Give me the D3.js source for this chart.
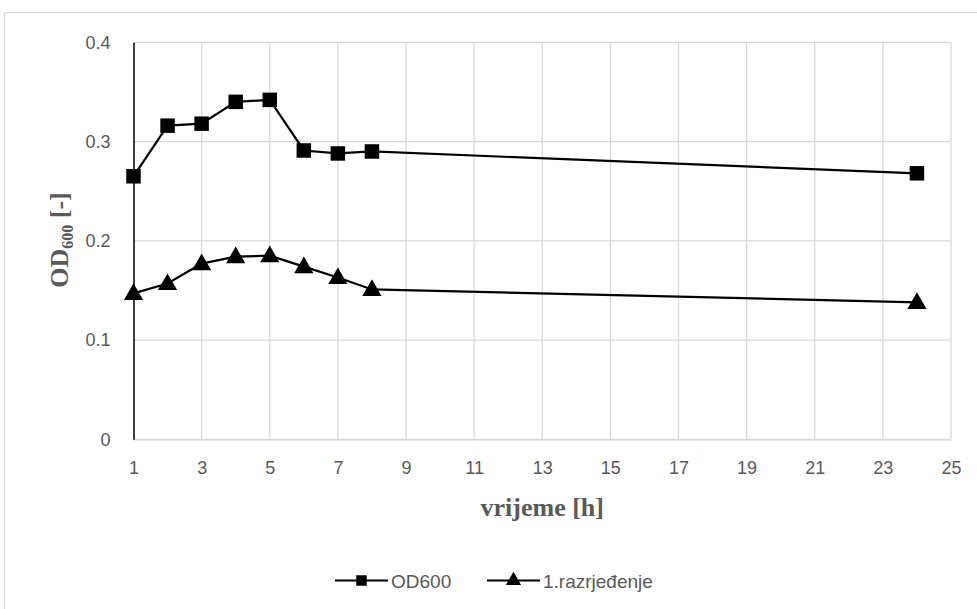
<!DOCTYPE html>
<html><head><meta charset="utf-8">
<script src="https://cdn.jsdelivr.net/npm/d3@7"></script>
<style>body{margin:0;background:#fff}svg{display:block}</style>
</head><body>
<script>
const hours = [1, 2, 3, 4, 5, 6, 7, 8, 24];
const od600 = [0.265, 0.316, 0.318, 0.340, 0.342, 0.291, 0.288, 0.290, 0.268];
const razrjedjenje = [0.147, 0.157, 0.177, 0.184, 0.185, 0.174, 0.163, 0.151, 0.138];
const xTicks = [1, 3, 5, 7, 9, 11, 13, 15, 17, 19, 21, 23, 25];
const yTicks = [0, 0.1, 0.2, 0.3, 0.4];
const seriesNames = ["OD600", "1.razrjeđenje"];

const W = 977, H = 609;
const svg = d3.select("body").append("svg").attr("width", W).attr("height", H);
svg.append("rect").attr("x", 4.5).attr("y", 12.5).attr("width", 980).attr("height", 620)
  .attr("fill", "#fff").attr("stroke", "#d9d9d9");

const x = d3.scaleLinear().domain([1, 25]).range([133.5, 951]);
const y = d3.scaleLinear().domain([0, 0.4]).range([439.3, 42.3]);
const sans = "'Liberation Sans', Arial, sans-serif";
const serif = "'Liberation Serif', 'Times New Roman', serif";

// gridlines
svg.append("g").selectAll("line").data(yTicks).join("line")
  .attr("x1", x(1)).attr("x2", x(25)).attr("y1", d => y(d)).attr("y2", d => y(d))
  .attr("stroke", "#d9d9d9").attr("stroke-width", 1.3);
svg.append("g").selectAll("line").data(xTicks.slice(1)).join("line")
  .attr("x1", d => x(d)).attr("x2", d => x(d)).attr("y1", y(0)).attr("y2", y(0.4))
  .attr("stroke", "#d9d9d9").attr("stroke-width", 1.3);

// axes
const xAxis = svg.append("g").attr("transform", `translate(0,${y(0)})`)
  .call(d3.axisBottom(x).tickValues(xTicks).tickSize(0).tickPadding(22).tickFormat(d3.format("d")));
xAxis.select(".domain").attr("stroke", "#d9d9d9").attr("stroke-width", 1.3);
xAxis.selectAll("text").attr("font-family", sans).attr("font-size", 18).attr("fill", "#595959");

const yAxis = svg.append("g").attr("transform", `translate(${x(1)},0)`)
  .call(d3.axisLeft(y).tickValues(yTicks).tickSize(0).tickPadding(23).tickFormat(d => d === 0 ? "0" : d3.format(".1f")(d)));
yAxis.select(".domain").attr("stroke", "#000").attr("stroke-width", 1.5);
yAxis.selectAll("text").attr("font-family", sans).attr("font-size", 18).attr("fill", "#595959");

// titles
svg.append("text").attr("x", (x(1) + x(25)) / 2).attr("y", 516).attr("text-anchor", "middle")
  .attr("font-family", serif).attr("font-weight", "bold")
  .attr("font-size", 26).attr("fill", "#595959").text("vrijeme [h]");
const yt = svg.append("text").attr("transform", "translate(68,240) rotate(-90)").attr("text-anchor", "middle")
  .attr("font-family", serif).attr("font-weight", "bold")
  .attr("font-size", 26).attr("fill", "#595959");
yt.append("tspan").text("OD");
yt.append("tspan").attr("font-size", 16).attr("dy", 5).text("600");
yt.append("tspan").attr("dy", -5).text(" [-]");

const line = d3.line().x(d => x(d[0])).y(d => y(d[1]));
const d1 = hours.map((h, i) => [h, od600[i]]);
const d2 = hours.map((h, i) => [h, razrjedjenje[i]]);
svg.append("path").attr("d", line(d1)).attr("fill", "none").attr("stroke", "#000").attr("stroke-width", 2.2);
svg.append("path").attr("d", line(d2)).attr("fill", "none").attr("stroke", "#000").attr("stroke-width", 2.2);

const sq = d3.symbol().type(d3.symbolSquare).size(210);
const tri = d3.symbol().type(d3.symbolTriangle).size(160);
svg.append("g").selectAll("path").data(d1).join("path")
  .attr("transform", d => `translate(${x(d[0])},${y(d[1])})`).attr("d", sq).attr("fill", "#000");
svg.append("g").selectAll("path").data(d2).join("path")
  .attr("transform", d => `translate(${x(d[0])},${y(d[1]) + 1})`).attr("d", tri).attr("fill", "#000");

// legend
const lsq = d3.symbol().type(d3.symbolSquare).size(110);
const ltri = d3.symbol().type(d3.symbolTriangle).size(100);
const leg = [{ x0: 335, sym: lsq, name: seriesNames[0] }, { x0: 487, sym: ltri, name: seriesNames[1] }];
const ly = 580.5;
leg.forEach(l => {
  svg.append("line").attr("x1", l.x0).attr("x2", l.x0 + 53).attr("y1", ly).attr("y2", ly)
    .attr("stroke", "#000").attr("stroke-width", 2.2);
  svg.append("path").attr("transform", `translate(${l.x0 + 26.5},${ly})`).attr("d", l.sym).attr("fill", "#000");
  svg.append("text").attr("x", l.x0 + 56).attr("y", ly + 7)
    .attr("font-family", sans).attr("font-size", 19).attr("fill", "#595959").text(l.name);
});
</script>
</body></html>
